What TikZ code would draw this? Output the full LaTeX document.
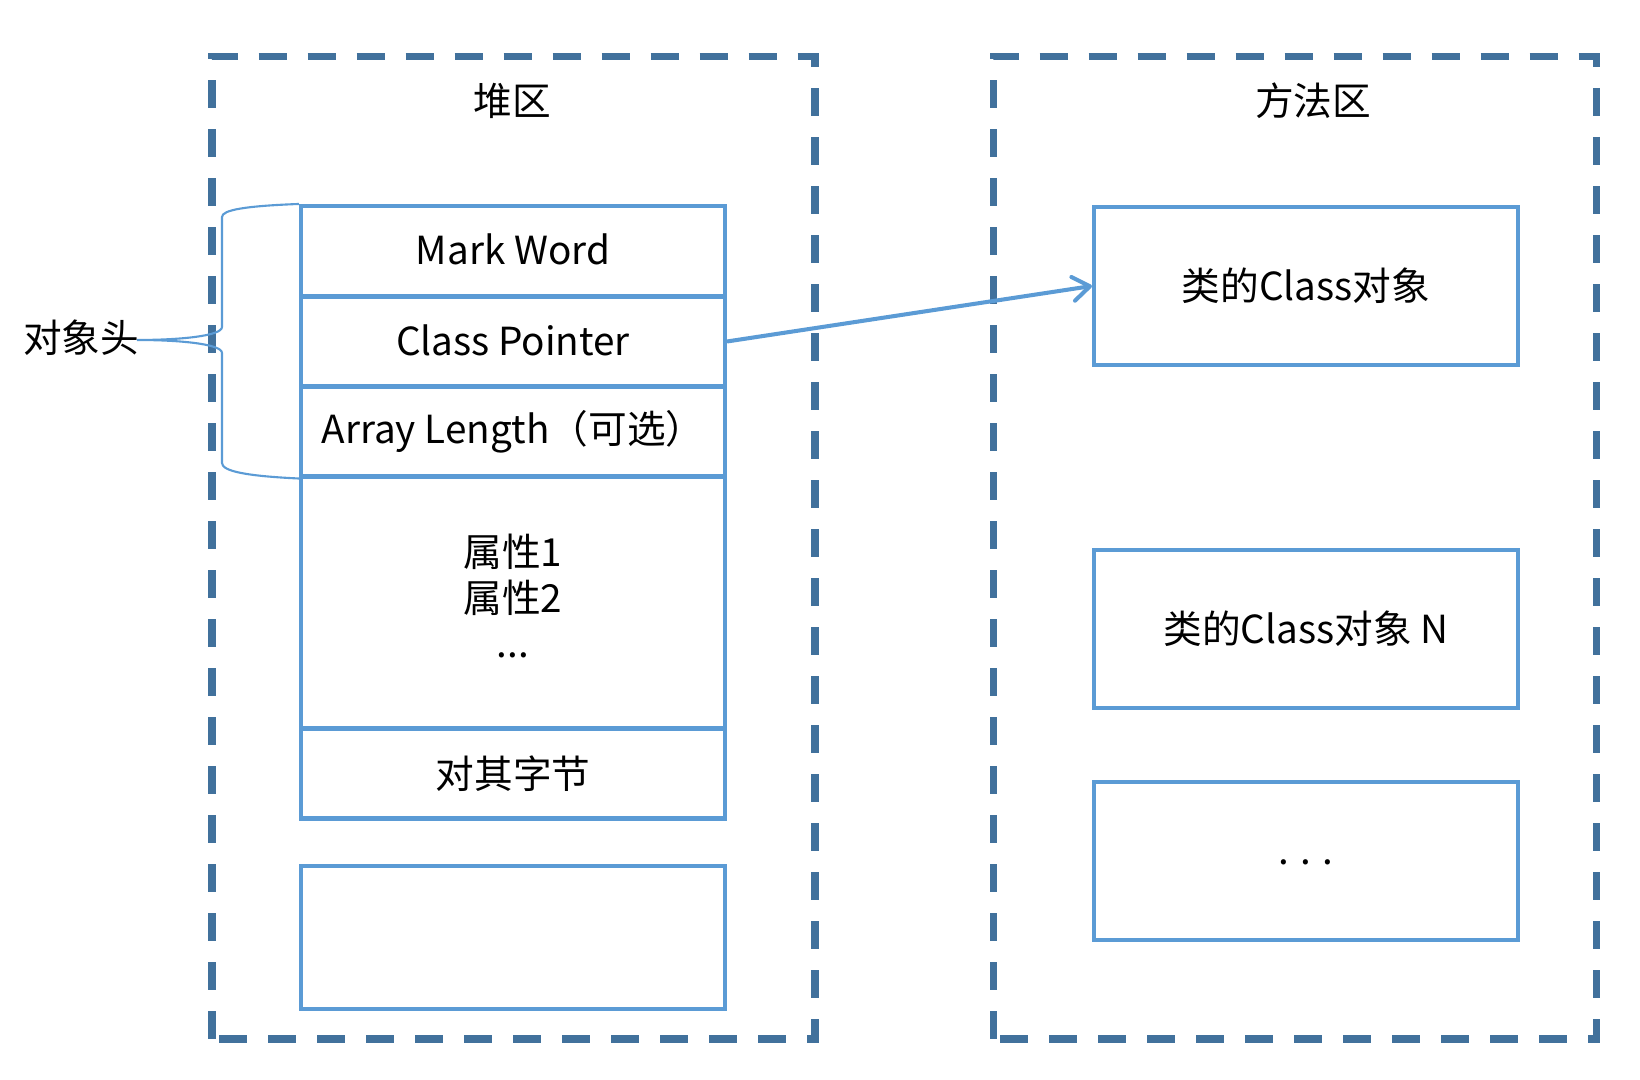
\documentclass[tikz,border=0pt]{standalone}
\usepackage{fontspec}
\setmainfont{Noto Sans CJK SC}
\usepackage{xcolor}
\usetikzlibrary{arrows.meta, calc}
\definecolor{boxblue}{HTML}{5B9BD5}
\definecolor{dashblue}{HTML}{41719C}

\begin{document}
\begin{tikzpicture}[
    cell/.style={rectangle, draw=boxblue, line width=1.15pt, minimum width=4.24cm, minimum height=#1, inner sep=0pt, font=\fontsize{11}{12.8}\selectfont, align=center},
    cell/.default=0.9cm,
    area/.style={draw=dashblue, line width=2pt, dash pattern=on 0.28cm off 0.21cm},
    title/.style={font=\fontsize{11}{13}\selectfont},
    arrow/.style={-{Straight Barb[length=1.7mm, width=2.4mm, round]}, line width=1.15pt, draw=boxblue},
    brace/.style={draw=boxblue, line width=0.6pt},
]
\useasboundingbox (0,0) rectangle (16.4,10.8);

% two memory areas
\draw[area] (2.12,0.41) rectangle (8.15,10.235);
\draw[area] (9.93,0.41) rectangle (15.96,10.235);
\node[title] (t1) at (5.12, 9.79) {堆区};
\node[title] (t2) at (13.13, 9.79) {方法区};

% object layout in the heap
\node[cell] (a1) at (5.13, 8.29) {\raisebox{0.03cm}{Mark Word}};
\node[cell] (a2) at (5.13, 7.385) {\raisebox{0.03cm}{Class Pointer}};
\node[cell] (a3) at (5.13, 6.485) {Array Length（可选）};
\node[cell=2.53cm] (a4) at (5.13, 4.775) {\raisebox{0.05cm}{\begin{tabular}{@{}c@{}}属性1\\属性2\\...\end{tabular}}};
\node[cell] (a5) at (5.13, 3.065) {\raisebox{0.03cm}{对其字节}};
\node[cell=1.43cm] (a6) at (5.13, 1.425) {};

% class objects in the method area
\node[cell=1.58cm] (b1) at (13.06, 7.94) {\raisebox{0.02cm}{类的Class对象}};
\node[cell=1.58cm] (b2) at (13.06, 4.51) {类的Class对象 N};
\node[cell=1.58cm] (b3) at (13.06, 2.19) {\raisebox{-0.08cm}{. . .}};

\draw[arrow] (a2.east)--(b1.west);

% header brace
\coordinate (tip) at (1.37, 7.40);
\node[title, anchor=east, inner sep=0pt] (hd) at ($(tip)+(0.03,0.02)$) {对象头};
\draw[brace] (a1.north west) .. controls (2.45,8.74) and (2.22,8.70) .. (2.22,8.63)
    -- (2.22,7.53) .. controls (2.22,7.44) and (1.8,7.40) .. (tip)
    .. controls (1.8,7.40) and (2.22,7.36) .. (2.22,7.27)
    -- (2.22,6.17) .. controls (2.22,6.09) and (2.45,6.04) .. (a3.south west);
\end{tikzpicture}
\end{document}
